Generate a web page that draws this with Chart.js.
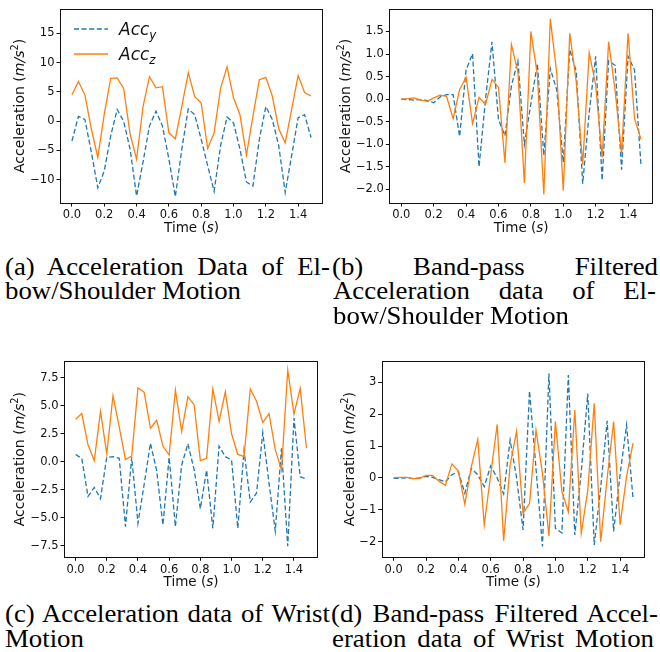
<!DOCTYPE html>
<html>
<head>
<meta charset="utf-8">
<script src="https://cdn.jsdelivr.net/npm/chart.js@4.4.0/dist/chart.umd.min.js"></script>
<style>
  html, body { margin: 0; padding: 0; background: #fff; }
  #fig { position: relative; width: 660px; height: 652px; overflow: hidden; background: #fff; }
  .panel { position: absolute; }
  .panel canvas { display: block; }
  .cap {
    position: absolute; white-space: pre; color: #000;
    font-family: "Liberation Serif", "Times New Roman", Times, serif; font-size: 25.5px;
    line-height: 1.2; transform-origin: 0 0;
  }
</style>
</head>
<body>
<div id="fig">
  <div class="panel" style="left:0;top:0"><canvas id="cA" width="330" height="240"></canvas></div>
  <div class="panel" style="left:330px;top:0"><canvas id="cB" width="330" height="240"></canvas></div>
  <div class="panel" style="left:0;top:330px"><canvas id="cC" width="330" height="262"></canvas></div>
  <div class="panel" style="left:330px;top:330px"><canvas id="cD" width="330" height="262"></canvas></div>
</div>
<script>
// ---- sample times (s) ----
const times = [0.00, 0.04, 0.08, 0.12, 0.16, 0.20, 0.24, 0.28, 0.32, 0.36,
               0.40, 0.44, 0.48, 0.52, 0.56, 0.60, 0.64, 0.68, 0.72, 0.76,
               0.80, 0.84, 0.88, 0.92, 0.96, 1.00, 1.04, 1.08, 1.12, 1.16,
               1.20, 1.24, 1.28, 1.32, 1.36, 1.40, 1.44, 1.48];

// ---- (a) elbow/shoulder, raw ----
const elbowAccY = [-3.4, 0.8, 0.3, -5.3, -11.4, -8.5, -2.5, 2.0, 0.0, -4.8,
                   -12.8, -7.0, -0.8, 1.7, -0.8, -6.5, -12.9, -4.8, 2.1, 1.1,
                   -3.1, -7.6, -12.0, -4.2, 0.7, -0.3, -4.8, -10.4, -11.1, -3.1,
                   2.5, 0.3, -4.2, -12.2, -5.9, 0.6, 1.1, -2.8];
const elbowAccZ = [4.5, 6.8, 4.5, -1.3, -6.2, 1.2, 7.3, 7.4, 5.6, -2.2,
                   -6.5, 2.5, 7.6, 5.7, 5.9, -2.0, -3.0, 2.5, 8.3, 4.2,
                   3.1, -4.7, -2.0, 5.6, 9.3, 4.0, 1.1, -5.8, 0.8, 7.1,
                   7.5, 4.3, -1.3, -3.7, 2.0, 7.8, 4.9, 4.3];

// ---- (b) elbow/shoulder, band-pass filtered ----
const elbowFiltY = [0.0, -0.01, -0.02, -0.01, -0.03, -0.08, 0.05, 0.10, 0.10, -0.83,
                    0.65, 1.01, -1.50, 0.0, 1.27, -0.45, -0.81, 0.30, 0.85, -1.00,
                    -0.10, 0.79, -1.25, 0.68, 0.20, -1.40, 1.10, 0.62, -1.87, -0.30,
                    0.95, -1.80, 0.85, 0.75, -1.56, 0.95, 0.65, -1.47];
const elbowFiltZ = [0.0, 0.01, 0.03, -0.02, -0.05, 0.03, 0.09, 0.06, -0.43, 0.21,
                    0.49, -0.54, 0.04, -0.12, 0.44, 0.26, -1.41, 1.21, 0.60, -1.86,
                    1.50, 0.55, -2.11, 1.78, 0.57, -2.03, 1.46, 0.39, -1.45, 1.03,
                    0.32, -1.29, 1.27, 0.20, -1.21, 1.46, -0.43, -0.89];

// ---- (c) wrist, raw ----
const wristAccY = [0.65, 0.3, -3.1, -2.3, -3.3, 0.4, 0.45, 0.3, -5.8, 0.4,
                   -5.5, -2.0, 1.65, -0.8, -5.65, 0.4, -5.8, -0.3, 1.6, -0.7,
                   -4.2, -0.75, -5.95, 1.4, 0.45, 0.15, -5.95, 1.0, -3.6, -2.8,
                   2.6, -1.9, -6.2, 1.2, -7.55, 3.9, -1.35, -1.55];
const wristAccZ = [3.8, 4.3, 1.5, 0.1, 4.5, 0.7, 5.9, 3.1, 0.2, 0.5,
                   6.6, 6.2, 3.0, 3.7, 1.4, 0.6, 6.4, 2.7, 5.8, 5.1,
                   0.1, 0.3, 6.5, 3.6, 6.25, 2.5, 0.65, 0.45, 6.5, 5.4,
                   3.5, 4.3, 1.1, -0.75, 8.2, 4.25, 6.55, 1.2];

// ---- (d) wrist, band-pass filtered ----
const wristFiltY = [-0.01, -0.01, 0.0, -0.02, 0.0, 0.05, 0.02, -0.05, -0.12, 0.10,
                    0.20, -0.48, 0.30, 0.10, -0.27, 0.38, 0.0, -0.50, 1.19, 0.0,
                    -1.63, 2.73, 0.30, -2.15, 3.28, -1.58, -1.73, 3.23, -1.79, 0.20,
                    2.65, -2.10, -0.30, 1.79, -1.68, 0.10, 1.66, -0.64];
const wristFiltZ = [0.01, 0.02, 0.02, -0.02, -0.01, 0.08, 0.08, -0.10, -0.23, 0.44,
                    0.22, -0.83, 0.35, 1.21, -1.47, 0.10, 1.68, -1.97, 0.40, 1.47,
                    -1.11, -0.80, 1.50, 0.15, -1.82, 1.77, -0.43, -1.06, 2.13, -1.73,
                    -0.40, 2.34, -2.00, 0.0, 1.77, -1.47, 0.04, 1.09];

// ---- tick labels ----
const timeTicks = [0.0, 0.2, 0.4, 0.6, 0.8, 1.0, 1.2, 1.4];
const ticksA = [-10, -5, 0, 5, 10, 15];
const ticksB = [-2.0, -1.5, -1.0, -0.5, 0.0, 0.5, 1.0, 1.5];
const ticksC = [-7.5, -5.0, -2.5, 0.0, 2.5, 5.0, 7.5];
const ticksD = [-2, -1, 0, 1, 2, 3];

// ---- legend labels ----
const seriesNames = [['Acc', 'y'], ['Acc', 'z']];

// ---- captions ----
const captions = [
  { x: 5,   y: 275, text: '(a) Acceleration Data of El-', w: 325 },
  { x: 5,   y: 299, text: 'bow/Shoulder Motion' },
  { x: 332, y: 275, text: '(b) Band-pass Filtered', w: 326 },
  { x: 333, y: 299, text: 'Acceleration data of El-', w: 323 },
  { x: 333, y: 324, text: 'bow/Shoulder Motion' },
  { x: 5,   y: 622, text: '(c) Acceleration data of Wrist', w: 325 },
  { x: 5,   y: 647, text: 'Motion' },
  { x: 331, y: 622, text: '(d) Band-pass Filtered Accel-', w: 327 },
  { x: 332, y: 647, text: 'eration data of Wrist Motion', w: 322 }
];

const BLUE = '#1f77b4', ORANGE = '#ff7f0e', INK = '#111';
const SANS = '"DejaVu Sans", sans-serif';

function fmtMinus(v, digits) {
  const s = Math.abs(v).toFixed(digits);
  return (v < 0 ? '\u2212' : '') + s;
}

function segFont(seg, size) {
  const sz = (seg.sup || seg.sub) ? size * 0.7 : size;
  return (seg.it ? 'italic ' : '') + sz + 'px ' + SANS;
}
function richWidth(ctx, segs, size) {
  let w = 0;
  for (const s of segs) { ctx.font = segFont(s, size); w += ctx.measureText(s.t).width; }
  return w;
}
function drawRich(ctx, segs, x, y, size, align) {
  let cx = align === 'center' ? x - richWidth(ctx, segs, size) / 2 : x;
  ctx.textAlign = 'left';
  ctx.textBaseline = 'alphabetic';
  for (const s of segs) {
    ctx.font = segFont(s, size);
    const dy = s.sup ? -size * 0.4 : (s.sub ? size * 0.24 : 0);
    ctx.fillText(s.t, cx, y + dy);
    cx += ctx.measureText(s.t).width;
  }
}

const yTitle = [
  { t: 'Acceleration (' }, { t: 'm/s', it: true }, { t: '2', sup: true }, { t: ')' }
];
const xTitle = [{ t: 'Time (' }, { t: 's', it: true }, { t: ')' }];

function makePanel(id, cfg) {
  const canvas = document.getElementById(id);
  const W = canvas.width, H = canvas.height;
  const area = cfg.area;

  const decor = {
    id: 'decor',
    afterDraw(chart) {
      const ctx = chart.ctx;
      const ca = chart.chartArea;
      ctx.save();
      // axes frame
      ctx.strokeStyle = INK;
      ctx.lineWidth = 1;
      ctx.strokeRect(Math.round(ca.left) + 0.5, Math.round(ca.top) + 0.5,
                     Math.round(ca.right) - Math.round(ca.left) - 1,
                     Math.round(ca.bottom) - Math.round(ca.top));
      ctx.fillStyle = INK;
      // x title
      drawRich(ctx, xTitle, (ca.left + ca.right) / 2, ca.bottom + 29, 13.5, 'center');
      // y title
      ctx.save();
      ctx.translate(cfg.yTitleX, (ca.top + ca.bottom) / 2);
      ctx.rotate(-Math.PI / 2);
      drawRich(ctx, yTitle, 0, 0, 14, 'center');
      ctx.restore();
      // legend
      if (cfg.legend) {
        const lg = cfg.legend;
        const styles = [{ c: BLUE, dash: [5, 2.6] }, { c: ORANGE, dash: [] }];
        seriesNames.forEach((nm, i) => {
          const ly = lg.y + i * lg.dy;
          ctx.strokeStyle = styles[i].c;
          ctx.setLineDash(styles[i].dash);
          ctx.lineWidth = 1.3;
          ctx.beginPath();
          ctx.moveTo(lg.x, ly);
          ctx.lineTo(lg.x + 34, ly);
          ctx.stroke();
          ctx.setLineDash([]);
          ctx.fillStyle = INK;
          drawRich(ctx, [{ t: nm[0], it: true }, { t: nm[1], it: true, sub: true }],
                   lg.x + 45, ly + 6, 17, 'left');
        });
      }
      ctx.restore();
    }
  };

  return new Chart(canvas, {
    type: 'line',
    data: {
      datasets: [
        {
          label: 'Acc_y', order: 2,
          data: times.map((t, i) => ({ x: t, y: cfg.y[i] })),
          borderColor: BLUE, borderWidth: 1.3, borderDash: [5, 2.6],
          pointRadius: 0, tension: 0, fill: false
        },
        {
          label: 'Acc_z', order: 1,
          data: times.map((t, i) => ({ x: t, y: cfg.z[i] })),
          borderColor: ORANGE, borderWidth: 1.3,
          pointRadius: 0, tension: 0, fill: false
        }
      ]
    },
    options: {
      responsive: false,
      animation: false,
      events: [],
      layout: { padding: { left: 0, top: area.t, right: W - area.r, bottom: 0 } },
      plugins: { legend: { display: false }, tooltip: { enabled: false } },
      scales: {
        x: {
          type: 'linear', min: -0.074, max: 1.554,
          afterBuildTicks: s => { s.ticks = timeTicks.map(v => ({ value: v })); },
          afterFit: s => { s.height = H - area.b; },
          ticks: {
            autoSkip: false, maxRotation: 0, minRotation: 0, padding: 2,
            color: INK, font: { family: SANS, size: 11.5 },
            callback: v => fmtMinus(v, 1)
          },
          grid: { display: true, drawOnChartArea: false, drawTicks: true,
                  tickLength: 3.5, color: INK, lineWidth: 1 },
          border: { display: false }
        },
        y: {
          type: 'linear', min: cfg.ymin, max: cfg.ymax,
          afterBuildTicks: s => { s.ticks = cfg.yTicks.map(v => ({ value: v })); },
          afterFit: s => { s.width = area.l; },
          ticks: {
            autoSkip: false, padding: 2,
            color: INK, font: { family: SANS, size: 11.5 },
            callback: v => fmtMinus(v, cfg.yDigits)
          },
          grid: { display: true, drawOnChartArea: false, drawTicks: true,
                  tickLength: 3.5, color: INK, lineWidth: 1 },
          border: { display: false }
        }
      }
    },
    plugins: [decor]
  });
}

makePanel('cA', { y: elbowAccY, z: elbowAccZ, ymin: -14.0, ymax: 19.2, yTicks: ticksA, yDigits: 0,
                  area: { l: 60, t: 6, r: 323, b: 203 }, yTitleX: 23.5,
                  legend: { x: 74, y: 29, dy: 25 } });
makePanel('cB', { y: elbowFiltY, z: elbowFiltZ, ymin: -2.3, ymax: 2.0, yTicks: ticksB, yDigits: 1,
                  area: { l: 59.3, t: 6, r: 323, b: 203 }, yTitleX: 19.5 });
makePanel('cC', { y: wristAccY, z: wristAccZ, ymin: -8.54, ymax: 9.0, yTicks: ticksC, yDigits: 1,
                  area: { l: 64, t: 31, r: 318, b: 227.3 }, yTitleX: 24 });
makePanel('cD', { y: wristFiltY, z: wristFiltZ, ymin: -2.49, ymax: 3.67, yTicks: ticksD, yDigits: 0,
                  area: { l: 51.7, t: 31, r: 315, b: 227.3 }, yTitleX: 23.5 });

// ---- justified sub-figure captions ----
(function () {
  const fig = document.getElementById('fig');
  const probe = document.createElement('div');
  probe.className = 'cap';
  probe.textContent = 'bow/Shoulder Motion';
  fig.appendChild(probe);
  const sx = 236 / probe.getBoundingClientRect().width;
  fig.removeChild(probe);

  captions.forEach(c => {
    const div = document.createElement('div');
    div.className = 'cap';
    div.textContent = c.text;
    fig.appendChild(div);
    const natural = div.getBoundingClientRect().width;
    if (c.w) {
      const gaps = (c.text.match(/ /g) || []).length;
      if (gaps > 0) div.style.wordSpacing = ((c.w / sx - natural) / gaps) + 'px';
    }
    const mark = document.createElement('span');
    mark.style.cssText = 'display:inline-block;width:0;height:0;vertical-align:baseline';
    div.appendChild(mark);
    div.style.left = c.x + 'px';
    div.style.top = (c.y - mark.offsetTop) + 'px';
    div.style.transform = 'scaleX(' + sx + ')';
  });
})();
</script>
</body>
</html>
